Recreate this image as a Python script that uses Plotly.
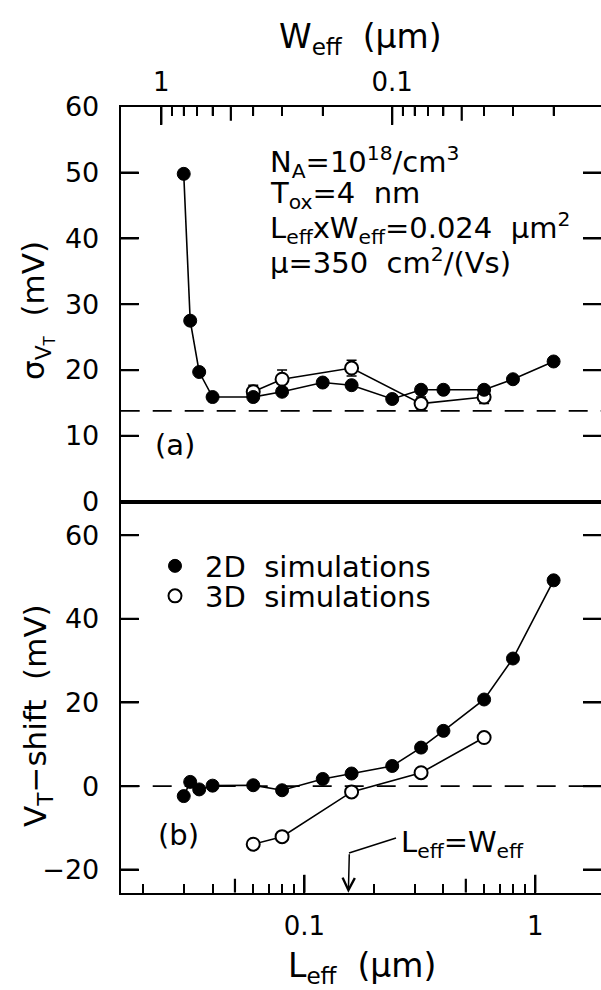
import numpy as np
import plotly.graph_objects as go

# ---------------- data ----------------
AREA = 0.024  # Leff x Weff (um^2)

L_2d = [0.030, 0.032, 0.035, 0.040, 0.060, 0.080, 0.120, 0.160, 0.240, 0.320, 0.400, 0.600, 0.800, 1.200]
sigma_2d = [49.8, 27.5, 19.7, 15.9, 15.9, 16.7, 18.1, 17.7, 15.6, 17.0, 17.0, 17.0, 18.6, 21.3]
shift_2d = [-2.4, 1.0, -0.8, 0.1, 0.2, -1.0, 1.7, 3.0, 4.8, 9.2, 13.2, 20.7, 30.5, 49.2]

L_3d = [0.060, 0.080, 0.160, 0.320, 0.600]
sigma_3d = [16.7, 18.6, 20.3, 14.9, 15.9]
sigma_3d_err = [1.0, 1.4, 1.2, 1.0, 1.0]
shift_3d = [-13.9, -12.1, -1.4, 3.2, 11.6]

SIGMA_FLOOR = 13.8   # dashed reference level in (a)
SHIFT_ZERO = 0.0     # dashed reference level in (b)

x_major = [0.1, 1]
x_major_text = ["0.1", "1"]
x_medium = [0.05, 0.5]
x_minor = [0.02, 0.03, 0.04, 0.06, 0.07, 0.08, 0.09, 0.2, 0.3, 0.4, 0.6, 0.7, 0.8, 0.9]

w_major = [1, 0.1]
w_major_text = ["1", "0.1"]
w_medium = [0.5, 0.05]
w_minor = [0.9, 0.8, 0.7, 0.6, 0.4, 0.3, 0.2, 0.09, 0.08, 0.07, 0.06, 0.04, 0.03, 0.02]

sigma_ticks = [0, 10, 20, 30, 40, 50, 60]
shift_ticks = [-20, 0, 20, 40, 60]
shift_tick_text = ["\u221220", "0", "20", "40", "60"]

SIGMA_RANGE = [0, 60]
SHIFT_RANGE = [-25.5, 68.0]
X_RANGE = [np.log10(0.016), np.log10(1.925)]

# ---------------- layout geometry ----------------
W, H = 601, 990
FONT = "DejaVu Sans"
LEFT_PX = 120.7
TOP_PX, MID_PX, BOT_PX = 106.7, 501.7, 892.7
XD = [LEFT_PX / W, 1.0]
YT = [1 - MID_PX / H, 1 - TOP_PX / H]
YB = [1 - BOT_PX / H, 1 - MID_PX / H]
LEN_MAJOR, LEN_MEDIUM, LEN_MINOR = 18, 14, 9

# scale factors (data units per pixel) derived from the axes
PX_PER_DECADE = (W - LEFT_PX) / (X_RANGE[1] - X_RANGE[0])
SIG_PER_PX = (SIGMA_RANGE[1] - SIGMA_RANGE[0]) / (MID_PX - TOP_PX)
SHIFT_PER_PX = (SHIFT_RANGE[1] - SHIFT_RANGE[0]) / (BOT_PX - MID_PX)
X_MIN, X_MAX = 10 ** X_RANGE[0], 10 ** X_RANGE[1]

W_MAJOR_L = [AREA / w for w in w_major]
W_MEDIUM_L = [AREA / w for w in w_medium]
W_MINOR_L = [AREA / w for w in w_minor]

fig = go.Figure()

line_style = dict(color="black", width=1.6)
mk_filled = dict(symbol="circle", size=13, color="black", line=dict(color="black", width=1))
mk_open = dict(symbol="circle", size=13, color="white", line=dict(color="black", width=2))


def tick_trace(xs, ys, xa, ya, width):
    fig.add_trace(go.Scatter(x=xs, y=ys, xaxis=xa, yaxis=ya, mode="lines",
                             line=dict(color="black", width=width), hoverinfo="skip",
                             showlegend=False, connectgaps=False))


def x_ticks(vals, xa, ya, y_edge, per_px, length, direction, width):
    xs, ys = [], []
    for v in vals:
        xs += [v, v, None]
        ys += [y_edge, y_edge + direction * length * per_px, None]
    tick_trace(xs, ys, xa, ya, width)


def y_ticks(vals, xa, ya, length, width):
    f = 10 ** (length / PX_PER_DECADE)
    xs, ys = [], []
    for t in vals:
        xs += [X_MIN, X_MIN * f, None, X_MAX, X_MAX / f, None]
        ys += [t, t, None, t, t, None]
    tick_trace(xs, ys, xa, ya, width)


# tick marks drawn through the axes' scales (decade, half-decade, and y ticks)
x_ticks(x_major, "x", "y", SHIFT_RANGE[0], SHIFT_PER_PX, LEN_MAJOR, 1, 2.2)
x_ticks(x_medium, "x", "y", SHIFT_RANGE[0], SHIFT_PER_PX, LEN_MEDIUM, 1, 2.2)
x_ticks(W_MAJOR_L, "x2", "y2", SIGMA_RANGE[1], SIG_PER_PX, LEN_MAJOR, -1, 2.2)
x_ticks(W_MEDIUM_L, "x2", "y2", SIGMA_RANGE[1], SIG_PER_PX, LEN_MEDIUM, -1, 2.2)
x_ticks(W_MINOR_L, "x2", "y2", SIGMA_RANGE[1], SIG_PER_PX, LEN_MINOR, -1, 1.8)
y_ticks([t for t in sigma_ticks if SIGMA_RANGE[0] < t < SIGMA_RANGE[1]], "x2", "y2", LEN_MAJOR, 2.2)
y_ticks(shift_ticks, "x", "y", LEN_MAJOR, 2.2)

# (a) sigma panel
fig.add_trace(go.Scatter(x=L_3d, y=sigma_3d, xaxis="x2", yaxis="y2", mode="lines+markers",
                         line=line_style, marker=mk_open, showlegend=False,
                         error_y=dict(type="data", array=sigma_3d_err, visible=True,
                                      color="black", thickness=1.5, width=5)))
fig.add_trace(go.Scatter(x=L_2d, y=sigma_2d, xaxis="x2", yaxis="y2", mode="lines+markers",
                         line=line_style, marker=mk_filled, showlegend=False))

# (b) shift panel
fig.add_trace(go.Scatter(x=L_3d, y=shift_3d, xaxis="x", yaxis="y", mode="lines+markers",
                         line=line_style, marker=mk_open, showlegend=False))
fig.add_trace(go.Scatter(x=L_2d, y=shift_2d, xaxis="x", yaxis="y", mode="lines+markers",
                         line=line_style, marker=mk_filled, showlegend=False))

# legend proxies (one legend each, placed independently)
fig.add_trace(go.Scatter(x=[None], y=[None], mode="markers", marker=mk_filled,
                         name="2D\u00a0\u00a0simulations", showlegend=True, legend="legend"))
fig.add_trace(go.Scatter(x=[None], y=[None], mode="markers", marker=mk_open,
                         name="3D\u00a0\u00a0simulations", showlegend=True, legend="legend2"))

common_x = dict(type="log", range=X_RANGE, domain=XD, showgrid=False, zeroline=False,
                automargin=False, showline=True, linewidth=2, linecolor="black", mirror=True)
native_tick = dict(ticks="inside", ticklen=LEN_MAJOR, tickwidth=2, tickcolor="black")
native_minor = dict(ticks="inside", ticklen=LEN_MINOR, tickwidth=1.5, tickcolor="black")

leg_common = dict(xanchor="left", yanchor="middle", bgcolor="rgba(0,0,0,0)",
                  font=dict(size=29, family=FONT, color="black"), itemwidth=50,
                  borderwidth=0)

fig.update_layout(
    template="none",
    width=W, height=H, autosize=False,
    margin=dict(l=0, r=0, t=0, b=0, pad=0, autoexpand=False),
    paper_bgcolor="white", plot_bgcolor="rgba(0,0,0,0)",
    font=dict(family=FONT, color="black", size=26),
    xaxis=dict(**common_x, anchor="y", side="bottom", **native_tick,
               tickvals=x_major, ticktext=x_major_text,
               tickfont=dict(size=26), ticklabelstandoff=9,
               minor=dict(tickvals=x_minor, **native_minor)),
    xaxis2=dict(**common_x, anchor="y2", side="top", **native_tick,
                tickvals=W_MAJOR_L, ticktext=w_major_text,
                tickfont=dict(size=26), ticklabelstandoff=3,
                minor=dict(tickvals=W_MINOR_L, **native_minor)),
    yaxis=dict(domain=YB, anchor="x", range=SHIFT_RANGE, tickvals=shift_ticks,
               ticktext=shift_tick_text, **native_tick,
               tickfont=dict(size=27), ticklabelstandoff=14, automargin=False,
               showline=True, linewidth=2, linecolor="black", mirror="ticks",
               showgrid=False, zeroline=False),
    yaxis2=dict(domain=YT, anchor="x2", range=SIGMA_RANGE, tickvals=sigma_ticks,
                **native_tick, tickfont=dict(size=27), ticklabelstandoff=14,
                automargin=False,
                showline=True, linewidth=2, linecolor="black", mirror="ticks",
                showgrid=False, zeroline=False),
    legend=dict(x=145 / W, y=1 - 566 / H, **leg_common),
    legend2=dict(x=145 / W, y=1 - 596 / H, **leg_common),
)

# dashed reference lines
fig.add_shape(type="line", xref="x2 domain", yref="y2", x0=0, x1=1,
              y0=SIGMA_FLOOR, y1=SIGMA_FLOOR, layer="below",
              line=dict(color="black", width=1.8, dash="19px,13px"))
fig.add_shape(type="line", xref="x domain", yref="y", x0=0, x1=1,
              y0=SHIFT_ZERO, y1=SHIFT_ZERO, layer="below",
              line=dict(color="black", width=1.8, dash="19px,13px"))

def txt(text, x, y, size=29, xanchor="left", angle=0):
    fig.add_annotation(text=text, x=x / W, y=1 - y / H, xref="paper", yref="paper",
                       xanchor=xanchor, yanchor="middle", showarrow=False,
                       textangle=angle, font=dict(size=size, family=FONT, color="black"))

# parameters text
txt("N<sub>A</sub>=10<sup>18</sup>/cm<sup>3</sup>", 268, 162)
txt("T<sub>ox</sub>=4\u00a0\u00a0nm", 268, 195)
txt("L<sub>eff</sub>xW<sub>eff</sub>=0.024\u00a0\u00a0\u03bcm<sup>2</sup>", 268, 228)
txt("\u03bc=350\u00a0\u00a0cm<sup>2</sup>/(Vs)", 268, 261)

txt("(a)", 175, 445, size=29, xanchor="center")
txt("(b)", 178, 835, size=29, xanchor="center")

# axis titles
txt("W<sub>eff</sub>\u00a0\u00a0(\u03bcm)", 360, 38, size=33, xanchor="center")
txt("L<sub>eff</sub>\u00a0\u00a0(\u03bcm)", 362, 967, size=33, xanchor="center")
txt("\u03c3<sub>V<sub>T</sub></sub>\u00a0\u00a0(mV)", 37, 311, size=31, xanchor="center", angle=-90)
txt("V<sub>T</sub>\u2212shift\u00a0\u00a0(mV)", 37, 716, size=31, xanchor="center", angle=-90)

# L_eff = W_eff marker
txt("L<sub>eff</sub>=W<sub>eff</sub>", 399, 844, size=29)
fig.add_shape(type="line", xref="paper", yref="paper",
              x0=349 / W, y0=1 - 853 / H, x1=396 / W, y1=1 - 838 / H,
              line=dict(color="black", width=1.5))
fig.add_annotation(x=np.log10(np.sqrt(AREA)), y=SHIFT_RANGE[0], xref="x", yref="y",
                   ax=1, ay=-40, axref="pixel", ayref="pixel", text="",
                   showarrow=True, arrowhead=5, arrowsize=1.6, arrowwidth=1.5,
                   arrowcolor="black", standoff=0)

fig.write_html("out.html")
